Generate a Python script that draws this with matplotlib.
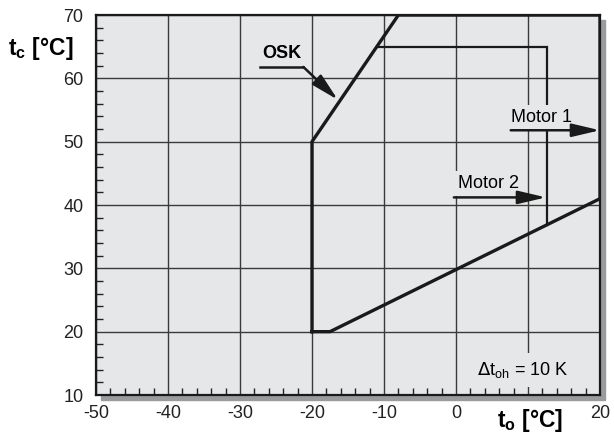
import matplotlib.pyplot as plt
from matplotlib.patches import Rectangle

plt.rcParams['font.family'] = ['Liberation Sans', 'DejaVu Sans']

# OSK envelope (t_o, t_c)
osk_to = [-20, -20, -8, 20, 20, -17.5, -20]
osk_tc = [20, 50, 70, 70, 41, 20, 20]

# inner limit line (Motor 2)
inner_to = [-11, 12.6, 12.6]
inner_tc = [65, 65, 36.9]

x_ticks = [-50, -40, -30, -20, -10, 0, 10, 20]
x_labels = ['-50', '-40', '-30', '-20', '-10', '0', '', '20']
y_ticks = [10, 20, 30, 40, 50, 60, 70]

bg = '#e6e7e8'
ink = '#1a1a1a'

fig = plt.figure(figsize=(6.14, 4.38), dpi=100)
ax = fig.add_axes([96/614, 1-395/438, 504/614, 380/438])

# drop shadow behind the frame
fig.patches.append(Rectangle((101/614, 1-400/438), 504/614, 380/438,
                             transform=fig.transFigure, color='#9a9b9d',
                             zorder=0))
ax.set_facecolor(bg)
ax.set_zorder(1)

ax.set_xlim(-50, 20)
ax.set_ylim(10, 70)
ax.set_xticks(x_ticks)
ax.set_xticklabels(x_labels)
ax.set_yticks(y_ticks)
ax.set_xticks(range(-50, 21, 2), minor=True)
ax.set_yticks(range(10, 71, 2), minor=True)
ax.tick_params(which='major', length=0, labelsize=13, colors='#222222')
ax.tick_params(axis='x', which='major', pad=7)
ax.tick_params(axis='y', which='major', pad=9)
ax.tick_params(which='minor', direction='in', length=5, width=1, color='#222222')
ax.grid(True, which='major', color='#3a3a3a', lw=1.0)
for s in ax.spines.values():
    s.set_linewidth(1.6)
    s.set_color(ink)

ax.plot(osk_to, osk_tc, color=ink, lw=2.4, solid_joinstyle='miter', zorder=4)
ax.plot(inner_to, inner_tc, color=ink, lw=1.6, solid_joinstyle='miter', zorder=3)

box = dict(facecolor=bg, edgecolor='none', pad=3)
arr = dict(arrowstyle='-|>,head_length=0.85,head_width=0.2', color=ink, lw=1.8,
           mutation_scale=20, shrinkA=0, shrinkB=0)

ax.text(11.9, 53.8, 'Motor 1', fontsize=13, ha='center', va='center',
        bbox=box, zorder=5)
ax.annotate('', xy=(20, 51.8), xytext=(7.6, 51.8), arrowprops=arr, zorder=6)

ax.text(4.5, 43.4, 'Motor 2', fontsize=13, ha='center', va='center',
        bbox=box, zorder=5)
ax.annotate('', xy=(12.5, 41.2), xytext=(-0.3, 41.2), arrowprops=arr, zorder=6)

ax.text(-24.2, 63.9, 'OSK', fontsize=13, fontweight='bold', ha='center',
        va='center', zorder=5)
ax.plot([-27.2, -21.2], [61.8, 61.8], color=ink, lw=1.8, zorder=5)
ax.annotate('', xy=(-16.4, 56.6), xytext=(-21.2, 61.8), arrowprops=arr, zorder=6)

ax.text(9.2, 13.9, r'$\Delta$t$_\mathregular{oh}$ = 10 K', fontsize=13,
        ha='center', va='center', bbox=dict(facecolor=bg, edgecolor='none', pad=5),
        zorder=5)

fig.text(8/614, 1-48/438, r't$_\mathregular{c}$ [°C]', fontsize=16.5,
         fontweight='bold', ha='left', va='center')
fig.text(497/614, 1-421/438, r't$_\mathregular{o}$ [°C]', fontsize=16.5,
         fontweight='bold', ha='left', va='center')

fig.savefig('out.png', dpi=100)
